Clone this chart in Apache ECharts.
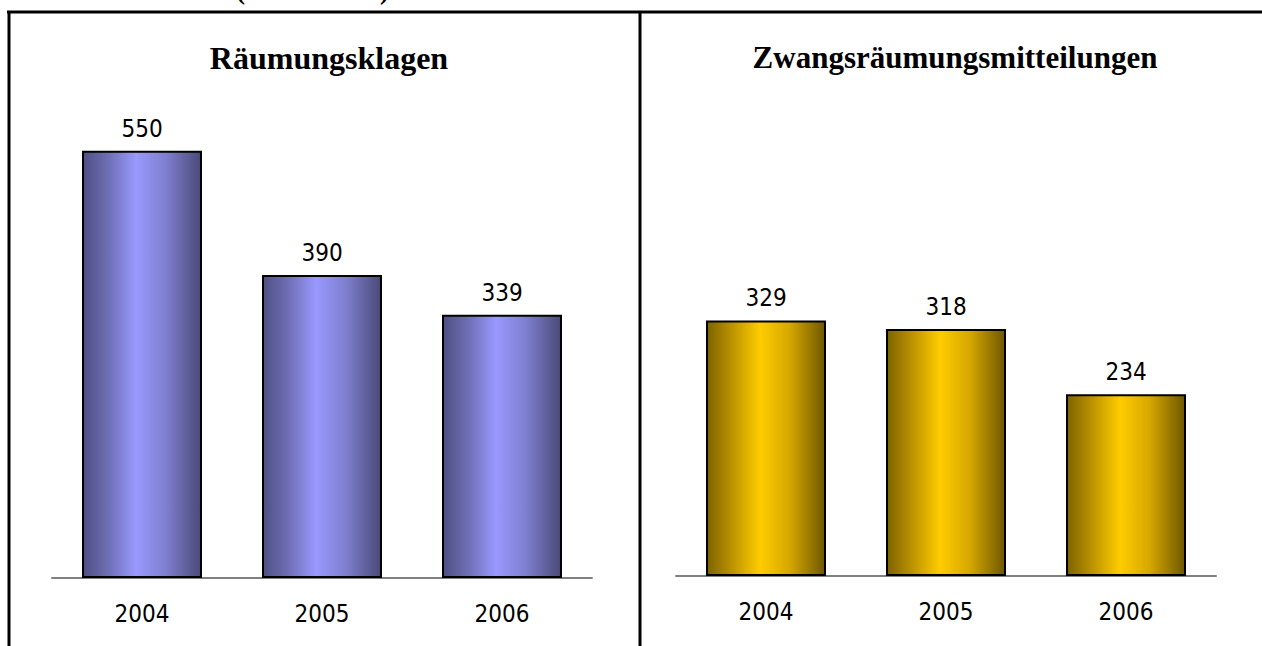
<!DOCTYPE html>
<html lang="de">
<head>
	<meta charset="UTF-8">
	<title>Räumungsklagen und Zwangsräumungsmitteilungen</title>
	<script type="text/javascript" src="https://cdn.jsdelivr.net/npm/echarts@6/dist/echarts.min.js"></script>
	<style>
		html, body { margin: 0; padding: 0; background: #fff; }
		#chart_show { width: 1262px; height: 646px; }
	</style>
</head>
<body>
	<div id="chart_show"></div>
	<script>
		// Daten
		var years = ['2004', '2005', '2006'];
		var klagen = [550, 390, 339];
		var mitteilungen = [329, 318, 234];
		var titleLeft = 'Räumungsklagen';
		var titleRight = 'Zwangsräumungsmitteilungen';

		var labelFont = '"DejaVu Sans Condensed", "Noto Sans", sans-serif';

		var oChart = echarts.init(document.getElementById('chart_show'), null, {renderer: 'svg'});

		var blue = new echarts.graphic.LinearGradient(0, 0, 1, 0, [
			{offset: 0, color: '#4f4f85'},
			{offset: 0.2, color: '#6c6cb0'},
			{offset: 0.45, color: '#9999ff'},
			{offset: 0.7, color: '#7f7fd0'},
			{offset: 1, color: '#4a4a78'}
		]);
		var gold = new echarts.graphic.LinearGradient(0, 0, 1, 0, [
			{offset: 0, color: '#7d6300'},
			{offset: 0.2, color: '#b89000'},
			{offset: 0.45, color: '#ffcc00'},
			{offset: 0.7, color: '#d6a800'},
			{offset: 1, color: '#6e5700'}
		]);

		var axisX = function (idx) {
			return {
				type: 'category',
				gridIndex: idx,
				data: years,
				axisLine: {lineStyle: {color: '#808080', width: 2}},
				axisTick: {show: false},
				axisLabel: {color: '#000', fontFamily: labelFont, fontSize: 24, margin: 24}
			};
		};
		var axisY = function (idx) {
			return {
				type: 'value',
				gridIndex: idx,
				min: 0,
				max: 600,
				show: false,
				splitLine: {show: false}
			};
		};
		var barSeries = function (idx, values, fill) {
			return {
				type: 'bar',
				xAxisIndex: idx,
				yAxisIndex: idx,
				data: values,
				barWidth: 120,
				itemStyle: {color: fill, borderColor: '#000', borderWidth: 2},
				label: {
					show: true,
					position: 'top',
					distance: 10,
					color: '#000',
					fontFamily: labelFont,
					fontSize: 24
				}
			};
		};

		var chartopt = {
			animation: false,
			title: [
				{
					text: titleLeft, left: 324, top: 37, textAlign: 'center',
					textStyle: {fontFamily: 'Liberation Serif', fontWeight: 'bold', fontSize: 32, color: '#000'}
				},
				{
					text: titleRight, left: 950, top: 37, textAlign: 'center',
					textStyle: {fontFamily: 'Liberation Serif', fontWeight: 'bold', fontSize: 31, color: '#000'}
				}
			],
			grid: [
				{left: 52, width: 540, top: 112, bottom: 68},
				{left: 676, width: 540, top: 110, bottom: 70}
			],
			xAxis: [axisX(0), axisX(1)],
			yAxis: [axisY(0), axisY(1)],
			series: [barSeries(0, klagen, blue), barSeries(1, mitteilungen, gold)],
			graphic: [
				// Tabellenrahmen
				{type: 'line', shape: {x1: 7, y1: 12, x2: 1262, y2: 12}, style: {stroke: '#000', lineWidth: 3}},
				{type: 'line', shape: {x1: 9, y1: 11, x2: 9, y2: 646}, style: {stroke: '#000', lineWidth: 3}},
				{type: 'line', shape: {x1: 640, y1: 11, x2: 640, y2: 646}, style: {stroke: '#000', lineWidth: 3}},
				// abgeschnittene Überschrift oben (wie im Original)
				{type: 'text', left: 236, top: -24, style: {text: '(2004 – 2006)', font: 'bold 27px "Liberation Serif"', fill: '#000'}}
			]
		};
		oChart.setOption(chartopt);
	</script>
</body>
</html>
